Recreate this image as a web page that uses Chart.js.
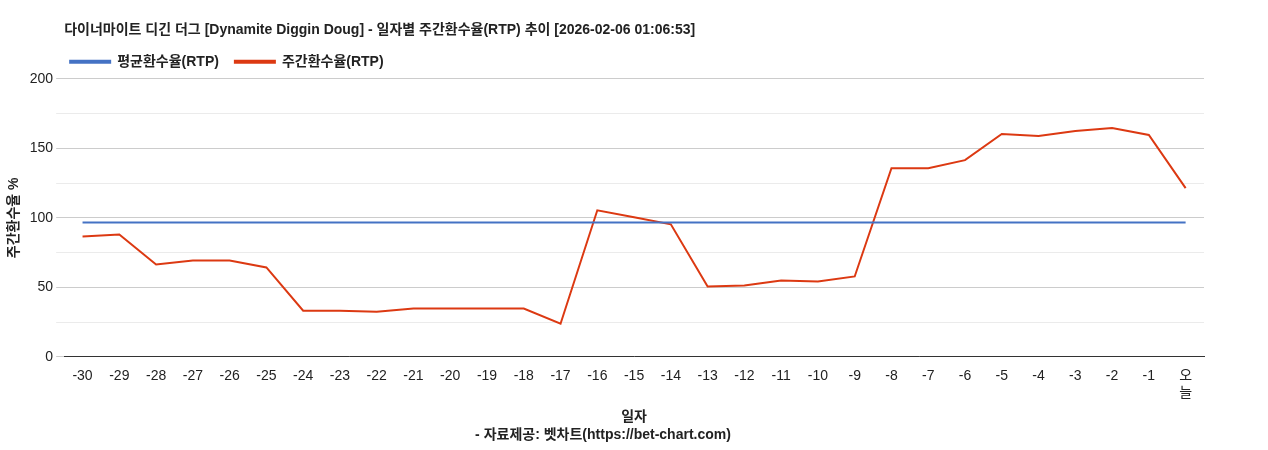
<!DOCTYPE html>
<html>
<head>
<meta charset="utf-8">
<script src="https://cdn.jsdelivr.net/npm/chart.js@4"></script>
<style>
  html, body { margin: 0; padding: 0; background: #fff; }
  #wrap { width: 1268px; height: 450px; }
</style>
</head>
<body>
<div id="wrap"><canvas id="chart"></canvas></div>
<script>
const days = ['-30','-29','-28','-27','-26','-25','-24','-23','-22','-21','-20','-19','-18','-17','-16',
  '-15','-14','-13','-12','-11','-10','-9','-8','-7','-6','-5','-4','-3','-2','-1',['오','늘']];
const weeklyRtp = [86.6, 88, 66.4, 69.3, 69.3, 64.3, 33.2, 33.2, 32.5, 34.7, 34.7, 34.7, 34.7, 23.8, 105.4,
  100.4, 95.3, 50.5, 51.3, 54.9, 54.2, 57.8, 135.7, 135.7, 141.5, 160.3, 158.8, 162.5, 164.6, 159.6, 121.3];
const avgRtpValue = 96.7;
const avgRtp = days.map(() => avgRtpValue);

const font = '"Liberation Sans", Arial, "Noto Sans CJK KR", sans-serif';
Chart.defaults.font.family = font;
Chart.defaults.color = '#222';

// line up title and legend with the left edge of the plot area
const alignToPlot = {
  id: 'alignToPlot',
  afterLayout(chart) {
    const left = chart.chartArea.left;
    if (chart.titleBlock) chart.titleBlock.left = left;
    if (chart.legend) chart.legend.left = left - 10;
  }
};

new Chart(document.getElementById('chart'), {
  type: 'line',
  data: {
    labels: days,
    datasets: [
      { label: '평균환수율(RTP)', data: avgRtp, borderColor: '#4472c4', backgroundColor: '#4472c4',
        borderWidth: 2, pointRadius: 0, tension: 0 },
      { label: '주간환수율(RTP)', data: weeklyRtp, borderColor: '#dc3912', backgroundColor: '#dc3912',
        borderWidth: 2, pointRadius: 0, tension: 0 }
    ]
  },
  plugins: [alignToPlot],
  options: {
    responsive: true,
    maintainAspectRatio: false,
    animation: false,
    layout: { padding: { left: 2, right: 64, top: 8, bottom: 2 } },
    plugins: {
      title: { display: true, align: 'start', text: '다이너마이트 디긴 더그 [Dynamite Diggin Doug] - 일자별 주간환수율(RTP) 추이 [2026-02-06 01:06:53]',
        font: { size: 14, weight: 'bold' }, color: '#222', padding: { top: 14, bottom: 0 } },
      legend: { align: 'start', labels: { boxWidth: 40, boxHeight: 2, font: { size: 14, weight: 'bold' }, color: '#222', padding: 16 } },
      subtitle: { display: true, position: 'bottom', text: '- 자료제공: 벳차트(https://bet-chart.com)',
        font: { size: 14, weight: 'bold' }, color: '#222', padding: { top: 2, bottom: 4 } },
      tooltip: { enabled: false }
    },
    scales: {
      x: {
        offset: true,
        grid: { display: false },
        border: { color: '#333' },
        ticks: { font: { size: 14 }, color: '#222', maxRotation: 0, autoSkip: false },
        title: { display: true, text: '일자', font: { size: 14, weight: 'bold' }, color: '#222', padding: { top: 4, bottom: 0 } }
      },
      y: {
        min: 0, max: 200,
        ticks: { stepSize: 25, font: { size: 14 }, color: '#222',
          callback: (v) => (v % 50 === 0 ? v : '') },
        grid: { color: (ctx) => (ctx.tick.value % 50 === 0 ? '#cccccc' : '#ebebeb') },
        border: { display: false },
        title: { display: true, text: '주간환수율 %', font: { size: 14, weight: 'bold' }, color: '#222' }
      }
    }
  }
});
</script>
</body>
</html>
